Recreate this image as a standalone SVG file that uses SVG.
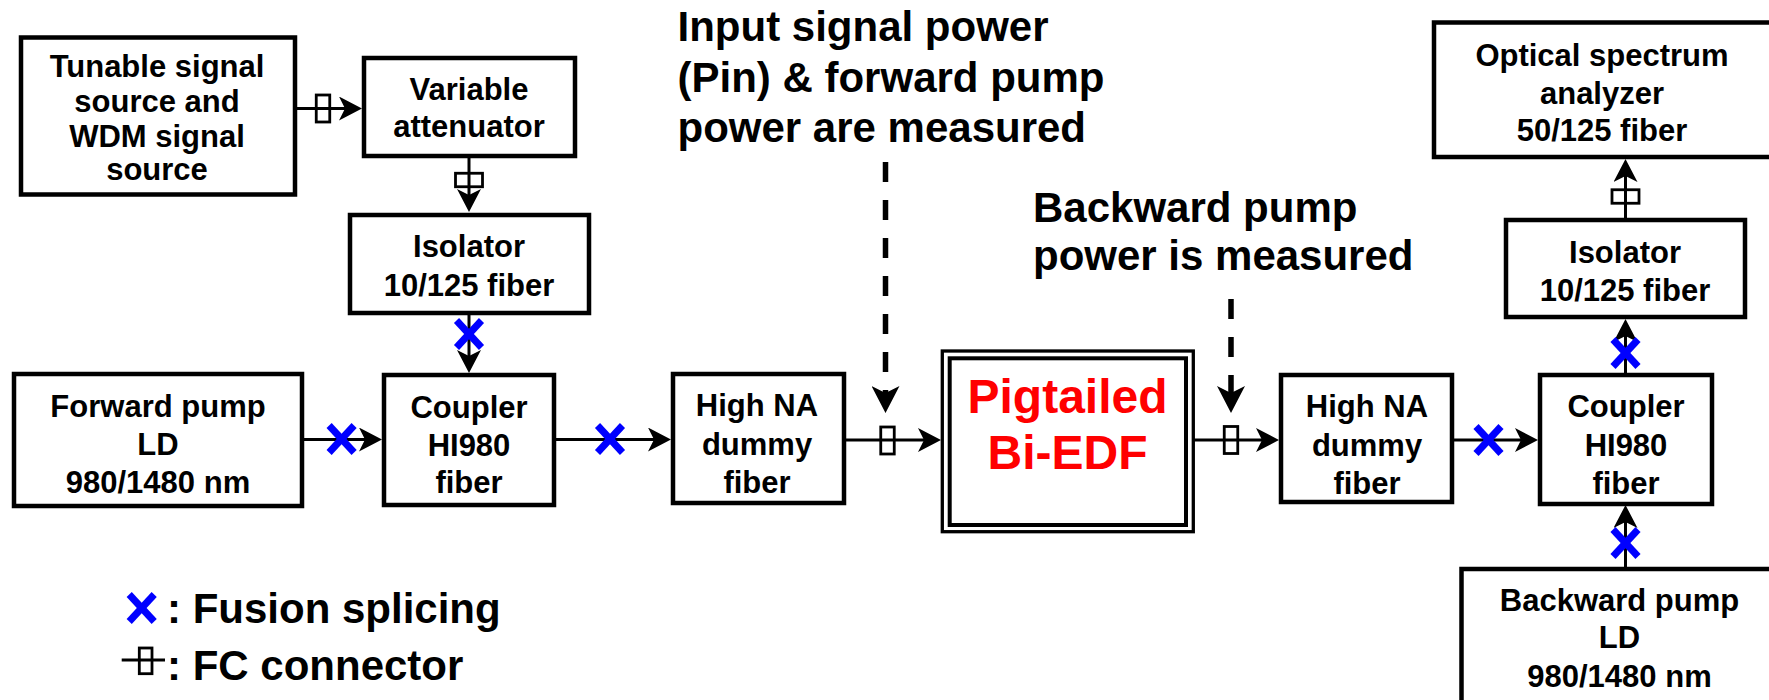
<svg xmlns="http://www.w3.org/2000/svg" width="1769" height="700" viewBox="0 0 1769 700">
<style>
.box{fill:#fff;stroke:#000;stroke-width:4.5}
.t{font-family:"Liberation Sans",Arial,sans-serif;font-weight:bold;font-size:31px;fill:#000;text-anchor:middle}
.ann{font-family:"Liberation Sans",Arial,sans-serif;font-weight:bold;font-size:42px;fill:#000}
.red{font-family:"Liberation Sans",Arial,sans-serif;font-weight:bold;font-size:48px;fill:#ff0000;text-anchor:middle}
.ln{stroke:#000;stroke-width:3;fill:none}
.dash{stroke:#000;stroke-width:5.5;fill:none;stroke-dasharray:20 18}
.fc{fill:none;stroke:#000;stroke-width:2.8}
.sp{stroke:#0000ff;stroke-width:7;stroke-linecap:butt}
</style>
<defs>
<marker id="arr" markerUnits="userSpaceOnUse" markerWidth="24" markerHeight="24" refX="6" refY="12" orient="auto" viewBox="0 0 24 24">
<path d="M0,0 L23,12 L0,24 L6,12 Z" fill="#000"/>
</marker>
<marker id="arrBig" markerUnits="userSpaceOnUse" markerWidth="28" markerHeight="28" refX="7" refY="14" orient="auto" viewBox="0 0 28 28">
<path d="M0,0 L27,14 L0,28 L7,14 Z" fill="#000"/>
</marker>
<g id="xs">
<line class="sp" x1="-12.5" y1="-13.5" x2="12.5" y2="13.5"/>
<line class="sp" x1="-12.5" y1="13.5" x2="12.5" y2="-13.5"/>
</g>
<rect id="fcv" class="fc" x="-6.75" y="-13.5" width="13.5" height="27"/>
<rect id="fch" class="fc" x="-13.5" y="-6.75" width="27" height="13.5"/>
</defs>

<g id="connectors">
<line class="ln" x1="297" y1="108.5" x2="345" y2="108.5" marker-end="url(#arr)"/>
<line class="ln" x1="469" y1="158" x2="469" y2="195" marker-end="url(#arr)"/>
<line class="ln" x1="469" y1="314" x2="469" y2="356" marker-end="url(#arr)"/>
<line class="ln" x1="303" y1="439.5" x2="365" y2="439.5" marker-end="url(#arr)"/>
<line class="ln" x1="556" y1="439.5" x2="654" y2="439.5" marker-end="url(#arr)"/>
<line class="ln" x1="845" y1="440" x2="924" y2="440" marker-end="url(#arr)"/>
<line class="ln" x1="1194" y1="440" x2="1262" y2="440" marker-end="url(#arr)"/>
<line class="ln" x1="1454" y1="440" x2="1521" y2="440" marker-end="url(#arr)"/>
<line class="ln" x1="1625.5" y1="374" x2="1625.5" y2="336" marker-end="url(#arr)"/>
<line class="ln" x1="1625.5" y1="219" x2="1625.5" y2="176" marker-end="url(#arr)"/>
<line class="ln" x1="1625.5" y1="567" x2="1625.5" y2="522" marker-end="url(#arr)"/>
<line class="dash" x1="885.5" y1="162" x2="885.5" y2="393" marker-end="url(#arrBig)"/>
<line class="dash" x1="1231" y1="299" x2="1231" y2="393" marker-end="url(#arrBig)"/>
<use href="#fcv" x="323" y="108.5"/>
<use href="#fch" x="469" y="180"/>
<use href="#fcv" x="887.5" y="440.5"/>
<use href="#fcv" x="1231" y="440"/>
<use href="#fch" x="1625.5" y="196.5"/>
<use href="#xs" x="469" y="334"/>
<use href="#xs" x="341.6" y="439"/>
<use href="#xs" x="610" y="439"/>
<use href="#xs" x="1488.5" y="440"/>
<use href="#xs" x="1625.5" y="353"/>
<use href="#xs" x="1625.5" y="543"/>
</g>

<g id="tunable">
<rect class="box" x="21" y="37.5" width="274" height="157"/>
<text class="t" x="157" y="77">Tunable signal</text>
<text class="t" x="157" y="112">source and</text>
<text class="t" x="157" y="147">WDM signal</text>
<text class="t" x="157" y="180">source</text>
</g>

<g id="attenuator">
<rect class="box" x="364" y="58" width="211" height="98"/>
<text class="t" x="469" y="100">Variable</text>
<text class="t" x="469" y="137">attenuator</text>
</g>

<g id="isolator1">
<rect class="box" x="350" y="215" width="239" height="98"/>
<text class="t" x="469" y="257">Isolator</text>
<text class="t" x="469" y="296">10/125 fiber</text>
</g>

<g id="fwdpump">
<rect class="box" x="14" y="374" width="288" height="132"/>
<text class="t" x="158" y="417">Forward pump</text>
<text class="t" x="158" y="455">LD</text>
<text class="t" x="158" y="493">980/1480 nm</text>
</g>

<g id="coupler1">
<rect class="box" x="384" y="375" width="170" height="130"/>
<text class="t" x="469" y="418">Coupler</text>
<text class="t" x="469" y="456">HI980</text>
<text class="t" x="469" y="493">fiber</text>
</g>

<g id="dummy1">
<rect class="box" x="673" y="374" width="171" height="129"/>
<text class="t" x="757" y="416">High NA</text>
<text class="t" x="757" y="455">dummy</text>
<text class="t" x="757" y="493">fiber</text>
</g>

<g id="edf">
<rect x="942.3" y="351" width="251" height="180.7" fill="#fff" stroke="#000" stroke-width="3.3"/>
<rect x="949.7" y="358.3" width="236.3" height="166.7" fill="none" stroke="#000" stroke-width="4"/>
<text class="red" x="1067.5" y="413">Pigtailed</text>
<text class="red" x="1067.5" y="469">Bi-EDF</text>
</g>

<g id="dummy2">
<rect class="box" x="1281" y="375" width="171" height="127"/>
<text class="t" x="1367" y="417">High NA</text>
<text class="t" x="1367" y="456">dummy</text>
<text class="t" x="1367" y="494">fiber</text>
</g>

<g id="coupler2">
<rect class="box" x="1540" y="375" width="172" height="129"/>
<text class="t" x="1626" y="417">Coupler</text>
<text class="t" x="1626" y="456">HI980</text>
<text class="t" x="1626" y="494">fiber</text>
</g>

<g id="isolator2">
<rect class="box" x="1506" y="220" width="239" height="97"/>
<text class="t" x="1625" y="263">Isolator</text>
<text class="t" x="1625" y="301">10/125 fiber</text>
</g>

<g id="osa">
<rect class="box" x="1434" y="22.5" width="400" height="134.5"/>
<text class="t" x="1602" y="66">Optical spectrum</text>
<text class="t" x="1602" y="104">analyzer</text>
<text class="t" x="1602" y="141">50/125 fiber</text>
</g>

<g id="bwdpump">
<rect class="box" x="1461.5" y="569" width="400" height="200"/>
<text class="t" x="1619.5" y="611">Backward pump</text>
<text class="t" x="1619.5" y="648">LD</text>
<text class="t" x="1619.5" y="687">980/1480 nm</text>
</g>

<g id="note-forward">
<text class="ann" x="677.5" y="41">Input signal power</text>
<text class="ann" x="677.5" y="92">(Pin) &amp; forward pump</text>
<text class="ann" x="677.5" y="142">power are measured</text>
</g>

<g id="note-backward">
<text class="ann" x="1033" y="222">Backward pump</text>
<text class="ann" x="1033" y="270">power is measured</text>
</g>

<g id="legend">
<use href="#xs" x="141.7" y="608"/>
<text class="ann" x="167" y="623">: Fusion splicing</text>
<line class="ln" x1="121.7" y1="660" x2="165" y2="660"/>
<rect class="fc" x="139.3" y="648" width="12.7" height="25.7"/>
<text class="ann" x="167" y="680">: FC connector</text>
</g>
</svg>
